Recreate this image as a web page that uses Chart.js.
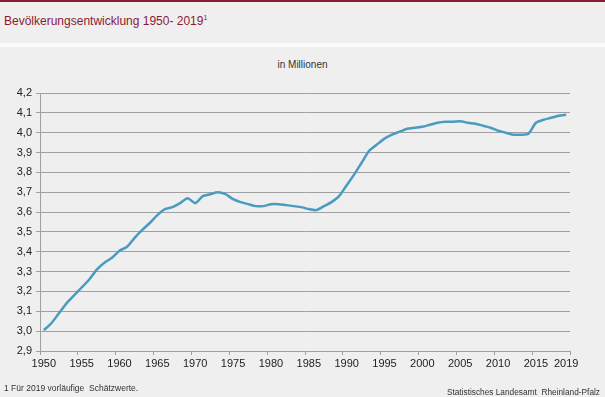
<!DOCTYPE html>
<html>
<head>
<meta charset="utf-8">
<script src="https://cdn.jsdelivr.net/npm/chart.js@4"></script>
<style>
  body { margin: 0; width: 605px; height: 397px; background: #eeefee; font-family: "Liberation Sans", Arial, sans-serif; position: relative; overflow: hidden; }
  #head { position: absolute; left: 0; top: 0; width: 605px; height: 41px; border-top: 2px solid #8b1a35; background: #eeefee; }
  #head span { position: absolute; left: 4px; top: 12px; font-size: 12px; color: #8b1a35; }
  #head sup { font-size: 7px; vertical-align: 5px; }
  #sep { position: absolute; left: 0; top: 43px; width: 605px; height: 4px; background: #fafafa; }
  #box { position: absolute; left: 0; top: 47px; width: 605px; height: 350px; }
  #unit { position: absolute; left: 0; width: 605px; top: 59px; text-align: center; font-size: 10px; color: #333; }
  #note { position: absolute; left: 4px; top: 383px; font-size: 8.5px; color: #333; }
  #src { position: absolute; right: 5px; top: 387px; font-size: 8.3px; color: #333; }
</style>
</head>
<body>
<div id="head"><span>Bevölkerungsentwicklung 1950- 2019<sup>1</sup></span></div>
<div id="sep"></div>
<div id="unit">in Millionen</div>
<div id="box"><canvas id="chart"></canvas></div>
<div id="note">1 Für 2019 vorläufige&nbsp; Schätzwerte.</div>
<div id="src">Statistisches Landesamt&nbsp; Rheinland-Pfalz</div>
<script>
/* ---------- data (Mio. Einwohner) ---------- */
const years = [
  1950, 1951, 1952, 1953, 1954, 1955, 1956, 1957, 1958, 1959,
  1960, 1961, 1962, 1963, 1964, 1965, 1966, 1967, 1968, 1969,
  1970, 1971, 1972, 1973, 1974, 1975, 1976, 1977, 1978, 1979,
  1980, 1981, 1982, 1983, 1984, 1985, 1986, 1987, 1988, 1989,
  1990, 1991, 1992, 1993, 1994, 1995, 1996, 1997, 1998, 1999,
  2000, 2001, 2002, 2003, 2004, 2005, 2006, 2007, 2008, 2009,
  2010, 2011, 2012, 2013, 2014, 2015, 2016, 2017, 2018, 2019,
];
const population = [
  3.005, 3.04, 3.09, 3.14, 3.18, 3.22, 3.26, 3.31, 3.345, 3.37,
  3.405, 3.425, 3.47, 3.51, 3.545, 3.585, 3.615, 3.625, 3.645, 3.67,
  3.645, 3.68, 3.69, 3.70, 3.69, 3.665, 3.65, 3.64, 3.63, 3.63,
  3.64, 3.64, 3.635, 3.63, 3.625, 3.615, 3.61, 3.63, 3.65, 3.68,
  3.735, 3.79, 3.85, 3.91, 3.94, 3.97, 3.99, 4.005, 4.02, 4.025,
  4.03, 4.04, 4.05, 4.055, 4.055, 4.058, 4.05, 4.045, 4.035, 4.025,
  4.01, 4.0, 3.99, 3.99, 3.995, 4.05, 4.065, 4.075, 4.085, 4.09,
];
const labeledYears = [1950, 1955, 1960, 1965, 1970, 1975, 1980, 1985, 1990, 1995, 2000, 2005, 2010, 2015, 2019];

const axisGrey = "#a0a0a0";
const tickFont = { family: "'Liberation Sans', Arial, sans-serif", size: 11 };

new Chart(document.getElementById("chart"), {
  type: "line",
  data: {
    labels: years,
    datasets: [{
      data: population,
      borderColor: "#4a9bc0",
      borderWidth: 2.5,
      tension: 0.25,
      pointRadius: 0,
      fill: false,
    }],
  },
  options: {
    responsive: true,
    maintainAspectRatio: false,
    animation: false,
    layout: { padding: { top: 46, right: 35, bottom: 26, left: 0 } },
    plugins: { legend: { display: false }, tooltip: { enabled: false } },
    scales: {
      x: {
        type: "category",
        offset: true,
        border: { color: axisGrey, width: 1 },
        grid: {
          offset: true,
          drawOnChartArea: false,
          tickLength: 4,
          tickColor: (c) => (c.index === undefined || c.index % 5 === 0) ? axisGrey : "rgba(0,0,0,0)",
        },
        ticks: {
          autoSkip: false,
          maxRotation: 0,
          padding: 2,
          color: "#222",
          font: tickFont,
          callback: function (v, i) {
            const y = years[i];
            return labeledYears.includes(y) ? String(y) : "";
          },
        },
        afterFit: (s) => { s.height = 20; },
      },
      y: {
        min: 2.9,
        max: 4.2,
        border: { color: axisGrey, width: 1 },
        grid: { color: axisGrey, lineWidth: 1, tickLength: 4 },
        ticks: {
          stepSize: 0.1,
          padding: 4,
          color: "#222",
          font: tickFont,
          callback: (v) => v.toFixed(1).replace(".", ","),
        },
        afterFit: (s) => { s.width = 40; },
      },
    },
  },
});
</script>
</body>
</html>
